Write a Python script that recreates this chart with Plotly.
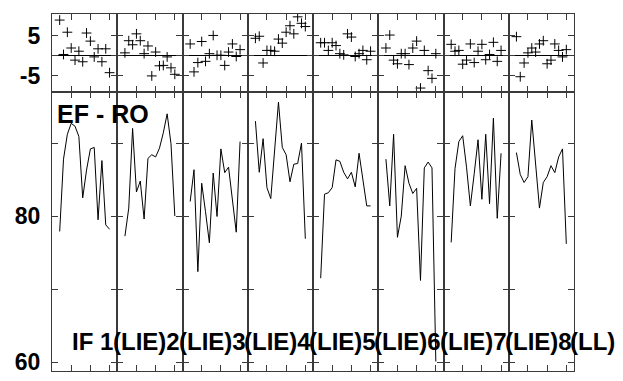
import plotly.graph_objects as go
from plotly.subplots import make_subplots

# ---------------- data ----------------
x_positions = list(range(2, 16))  # 14 samples per section

# upper panel: differences (crosses)
diff_1 = [8.8, 0.3, 5.8, 1.9, -1.1, 1.1, -1.5, 5.6, 3.6, -0.3, 1.7, -1.5, 1.7, -4.2]
diff_2 = [0.7, 3.7, 2.7, 5.4, 3.7, 0.5, 2.4, -5.0, 0.9, -2.5, -2.4, -0.3, -3.0, -4.6]
diff_3 = [2.9, -4.0, -1.7, 3.5, -1.4, 0.5, 5.0, 0.1, 0.1, -2.4, 0.9, 2.9, -0.2, 1.5]
diff_4 = [4.3, 4.8, -1.8, 1.3, 1.3, 1.1, 4.1, 3.1, 5.8, 7.4, 5.4, 9.6, 8.0, 7.2]
diff_5 = [3.2, 3.2, 1.3, 3.2, 2.5, 0.5, 0.2, 5.4, 4.6, -0.2, 0.5, 1.3, -1.0, 1.1]
diff_6 = [1.9, 5.1, -1.1, -2.0, 0.5, 0.5, -2.2, 1.9, 3.6, -8.0, 1.3, -3.7, -5.6, 0.5]
diff_7 = [2.8, 1.1, 1.3, -2.1, -1.1, 2.9, -1.7, 1.1, 2.8, -1.0, 0.3, 3.3, -1.4, 1.3]
diff_8 = [4.7, -5.2, -1.8, 0.7, 1.9, 0.9, 2.9, 3.7, -2.0, -1.1, 2.9, 1.3, -0.3, 1.5]

# lower panel: EF - RO values (lines)
val_1 = [77.9, 87.8, 91.2, 92.7, 92.3, 90.9, 82.5, 86.3, 89.2, 89.4, 79.5, 87.6, 78.8, 78.2]
val_2 = [77.25, 81.1, 92.0, 83.3, 84.8, 79.6, 87.9, 88.4, 88.1, 89.3, 91.4, 94.0, 89.9, 80.0]
val_3 = [82.0, 86.35, 72.4, 84.5, 80.6, 76.35, 85.9, 79.95, 89.2, 85.95, 86.7, 82.0, 77.8, 90.2]
val_4 = [93.0, 86.0, 90.6, 83.9, 82.4, 89.0, 95.6, 89.4, 88.4, 84.7, 87.1, 87.2, 90.0, 76.9]
val_5 = [71.5, 83.0, 83.2, 83.9, 87.7, 87.5, 86.0, 85.1, 86.0, 84.0, 88.6, 85.1, 81.4, 81.4]
val_6 = [87.8, 81.4, 91.2, 77.1, 80.0, 86.9, 84.5, 83.1, 83.8, 71.2, 86.6, 87.4, 86.6, 60.1]
val_7 = [76.4, 86.5, 90.2, 91.0, 86.7, 81.4, 85.8, 90.45, 82.3, 91.2, 81.7, 93.4, 79.7, 88.6]
val_8 = [88.7, 85.7, 84.6, 85.4, 93.15, 87.2, 81.1, 84.6, 85.4, 86.9, 85.95, 88.1, 89.2, 76.2]

diffs = [diff_1, diff_2, diff_3, diff_4, diff_5, diff_6, diff_7, diff_8]
vals = [val_1, val_2, val_3, val_4, val_5, val_6, val_7, val_8]

section_labels = ["IF 1", "(LIE)2", "(LIE)3", "(LIE)4", "(LIE)5", "(LIE)6", "(LIE)7", "(LIE)8", "(LL)"]
panel_title = "EF - RO"

top_ticks = [-5, 0, 5]
top_ticktext = ["-5", "", "5"]
bottom_ticks = [60, 70, 80, 90]
bottom_ticktext = ["60", "", "80", ""]
x_ticks = [5, 10, 15]

# ---------------- figure ----------------
# page has a default 8px body margin; figure is sized/placed to compensate
OFF = 8
W, H = 623 - OFF, 381 - OFF - 1
PL, PR, PT, PB = 52, 574, 13, 375  # desired plot area in page pixels
ML, MT = PL - OFF, PT - OFF
MR = W - (PR - OFF)
MB = H - (PB - OFF)
n = 8
fig = make_subplots(rows=2, cols=n, horizontal_spacing=0, vertical_spacing=0,
                    row_heights=[79, 283])

FONT = "Liberation Sans, Arial, sans-serif"
axcol = "#3a3a3a"

for i in range(n):
    fig.add_trace(go.Scatter(x=x_positions, y=diffs[i], mode="markers",
                             marker=dict(symbol="cross-thin", size=7,
                                         line=dict(color="black", width=1)),
                             showlegend=False, hoverinfo="skip"),
                  row=1, col=i + 1)
    fig.add_trace(go.Scatter(x=x_positions, y=vals[i], mode="lines",
                             line=dict(color="black", width=1),
                             showlegend=False, hoverinfo="skip"),
                  row=2, col=i + 1)

common_x = dict(range=[0, 17], tickvals=x_ticks, showticklabels=False,
                ticks="inside", ticklen=6, tickwidth=1.2, tickcolor=axcol,
                mirror="allticks", showline=True, linecolor=axcol, linewidth=1.2,
                showgrid=False, zeroline=False)
for r in (1, 2):
    for c in range(1, n + 1):
        fig.update_xaxes(common_x, row=r, col=c)

for c in range(1, n + 1):
    fig.update_yaxes(dict(range=[-8.95, 10.3], tickvals=top_ticks, ticktext=top_ticktext,
                          showticklabels=(c == 1), ticks="inside", ticklen=6,
                          tickwidth=1.2, tickcolor=axcol, mirror="allticks",
                          showline=True, linecolor=axcol, linewidth=1.2, showgrid=False,
                          zeroline=True, zerolinecolor="black", zerolinewidth=1,
                          ticklabelstandoff=6,
                          tickfont=dict(family=FONT, size=23, color="black", weight="bold")),
                     row=1, col=c)
    fig.update_yaxes(dict(range=[58.8, 97.0], tickvals=bottom_ticks, ticktext=bottom_ticktext,
                          showticklabels=(c == 1), ticks="inside", ticklen=6,
                          tickwidth=1.2, tickcolor=axcol, mirror="allticks",
                          showline=True, linecolor=axcol, linewidth=1.2, showgrid=False,
                          zeroline=False, ticklabelstandoff=6,
                          tickfont=dict(family=FONT, size=23, color="black", weight="bold")),
                     row=2, col=c)

PW = PR - PL
PH = PB - PT


def px_x(p):
    return (p - PL) / PW


def px_y(p):
    return (PB - p) / PH


annots = []
annots.append(dict(text=panel_title, x=px_x(55), y=px_y(114), xref="paper", yref="paper",
                   xanchor="left", yanchor="middle", showarrow=False,
                   font=dict(family=FONT, size=25, color="black", weight="bold")))
sec_w = PW / n
lab_y = px_y(345)
annots.append(dict(text=section_labels[0], x=px_x(PL + sec_w - 2), y=lab_y,
                   xref="paper", yref="paper", xanchor="right", yanchor="middle",
                   showarrow=False,
                   font=dict(family=FONT, size=24, color="black", weight="bold")))
for k in range(1, len(section_labels)):
    annots.append(dict(text=section_labels[k], x=px_x(PL + k * sec_w - 6), y=lab_y,
                       xref="paper", yref="paper", xanchor="left", yanchor="middle",
                       showarrow=False,
                       font=dict(family=FONT, size=24, color="black", weight="bold")))

fig.update_layout(width=W, height=H, margin=dict(l=ML, r=MR, t=MT, b=MB),
                  paper_bgcolor="white", plot_bgcolor="white",
                  annotations=list(fig.layout.annotations) + annots,
                  showlegend=False)

fig.write_html("out.html")
